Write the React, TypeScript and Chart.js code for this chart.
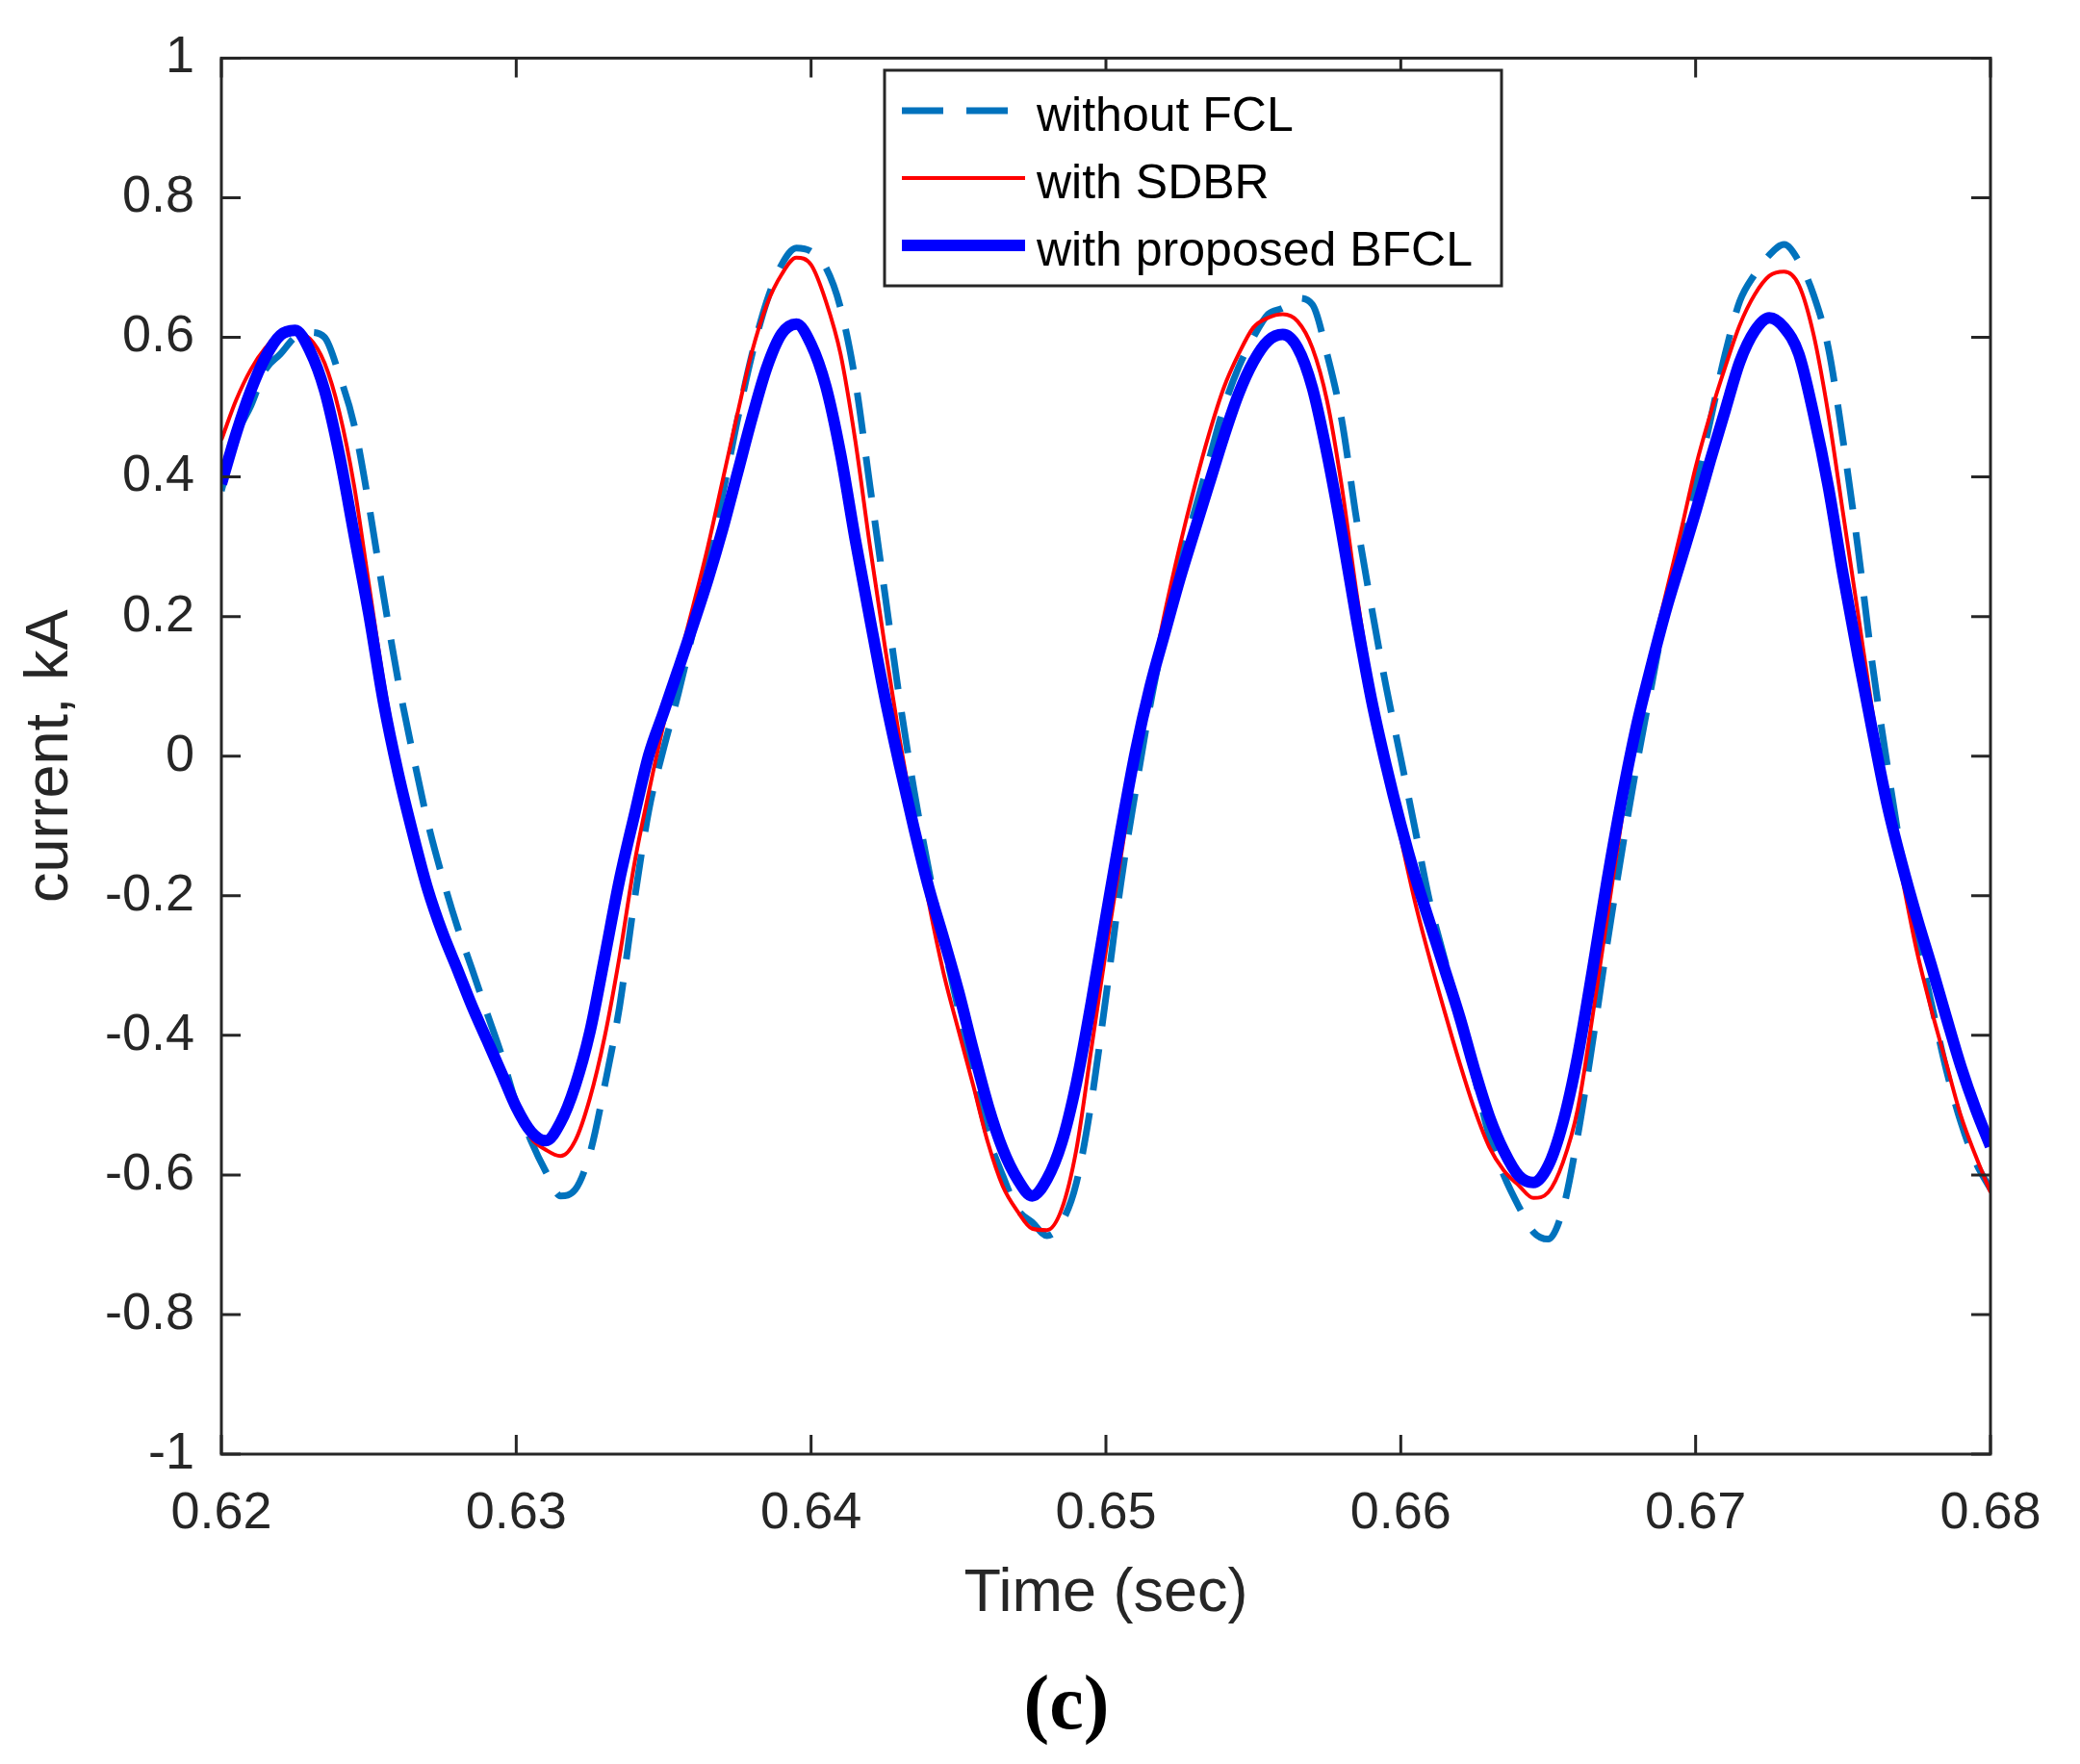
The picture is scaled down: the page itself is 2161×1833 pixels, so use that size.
import React, { useEffect, useRef } from "react";
import { Chart, registerables } from "chart.js";

Chart.register(...registerables);

// ---------- data ----------
const times = [
  0.62, 0.6205, 0.621, 0.6215, 0.622, 0.6225, 0.623, 0.6235, 0.624, 0.6245,
  0.625, 0.6255, 0.626, 0.6265, 0.627, 0.6275, 0.628, 0.6285, 0.629, 0.6295,
  0.63, 0.6305, 0.631, 0.6315, 0.632, 0.6325, 0.633, 0.6335, 0.634, 0.6345,
  0.635, 0.6355, 0.636, 0.6365, 0.637, 0.6375, 0.638, 0.6385, 0.639, 0.6395,
  0.64, 0.6405, 0.641, 0.6415, 0.642, 0.6425, 0.643, 0.6435, 0.644, 0.6445,
  0.645, 0.6455, 0.646, 0.6465, 0.647, 0.6475, 0.648, 0.6485, 0.649, 0.6495,
  0.65, 0.6505, 0.651, 0.6515, 0.652, 0.6525, 0.653, 0.6535, 0.654, 0.6545,
  0.655, 0.6555, 0.656, 0.6565, 0.657, 0.6575, 0.658, 0.6585, 0.659, 0.6595,
  0.66, 0.6605, 0.661, 0.6615, 0.662, 0.6625, 0.663, 0.6635, 0.664, 0.6645,
  0.665, 0.6655, 0.666, 0.6665, 0.667, 0.6675, 0.668, 0.6685, 0.669, 0.6695,
  0.67, 0.6705, 0.671, 0.6715, 0.672, 0.6725, 0.673, 0.6735, 0.674, 0.6745,
  0.675, 0.6755, 0.676, 0.6765, 0.677, 0.6775, 0.678, 0.6785, 0.679, 0.6795,
  0.68,
];

const withoutFCL = [
  0.38, 0.458, 0.502, 0.554, 0.576, 0.6, 0.607, 0.6, 0.546, 0.475,
  0.361, 0.23, 0.107, 0.002, -0.095, -0.174, -0.244, -0.305, -0.367, -0.428,
  -0.498, -0.551, -0.595, -0.63, -0.621, -0.569, -0.472, -0.36, -0.209, -0.077,
  0.011, 0.09, 0.18, 0.28, 0.375, 0.481, 0.576, 0.652, 0.704, 0.728,
  0.723, 0.7, 0.642, 0.538, 0.386, 0.234, 0.082, -0.051, -0.165, -0.269,
  -0.364, -0.459, -0.544, -0.601, -0.649, -0.668, -0.687, -0.668, -0.611, -0.497,
  -0.345, -0.184, -0.051, 0.073, 0.177, 0.275, 0.35, 0.425, 0.5, 0.557,
  0.6, 0.633, 0.642, 0.656, 0.647, 0.576, 0.481, 0.339, 0.215, 0.1,
  -0.003, -0.108, -0.212, -0.293, -0.374, -0.459, -0.544, -0.601, -0.645, -0.682,
  -0.692, -0.649, -0.544, -0.411, -0.269, -0.136, -0.013, 0.1, 0.21, 0.3,
  0.386, 0.481, 0.576, 0.652, 0.69, 0.718, 0.733, 0.709, 0.661, 0.585,
  0.452, 0.3, 0.13, -0.013, -0.146, -0.26, -0.355, -0.449, -0.525, -0.582,
  -0.62,
];

const withSDBR = [
  0.453, 0.51, 0.554, 0.585, 0.605, 0.605, 0.598, 0.563, 0.493, 0.388,
  0.247, 0.107, -0.007, -0.095, -0.182, -0.253, -0.305, -0.358, -0.402, -0.454,
  -0.503, -0.547, -0.564, -0.573, -0.551, -0.49, -0.402, -0.288, -0.156, -0.051,
  0.046, 0.133, 0.215, 0.3, 0.395, 0.49, 0.58, 0.647, 0.69, 0.714,
  0.704, 0.652, 0.576, 0.452, 0.3, 0.158, 0.025, -0.095, -0.212, -0.312,
  -0.393, -0.472, -0.554, -0.616, -0.652, -0.677, -0.679, -0.649, -0.563, -0.421,
  -0.279, -0.146, -0.013, 0.1, 0.206, 0.3, 0.385, 0.462, 0.528, 0.576,
  0.614, 0.628, 0.633, 0.623, 0.585, 0.509, 0.386, 0.234, 0.1, -0.013,
  -0.117, -0.212, -0.293, -0.368, -0.44, -0.506, -0.56, -0.594, -0.615, -0.633,
  -0.625, -0.582, -0.506, -0.374, -0.231, -0.089, 0.044, 0.145, 0.234, 0.322,
  0.414, 0.49, 0.557, 0.618, 0.661, 0.688, 0.694, 0.675, 0.604, 0.49,
  0.348, 0.206, 0.063, -0.07, -0.174, -0.279, -0.364, -0.44, -0.516, -0.573,
  -0.625,
];

const withBFCL = [
  0.39, 0.462, 0.524, 0.572, 0.603, 0.61, 0.581, 0.524, 0.432, 0.318,
  0.204, 0.077, -0.025, -0.112, -0.191, -0.253, -0.305, -0.358, -0.406, -0.454,
  -0.503, -0.538, -0.551, -0.525, -0.472, -0.395, -0.288, -0.178, -0.086, 0.002,
  0.063, 0.125, 0.188, 0.253, 0.325, 0.405, 0.485, 0.557, 0.605, 0.619,
  0.59, 0.53, 0.433, 0.31, 0.196, 0.085, -0.013, -0.105, -0.19, -0.262,
  -0.337, -0.421, -0.5, -0.563, -0.606, -0.63, -0.606, -0.554, -0.468, -0.354,
  -0.23, -0.108, 0.006, 0.1, 0.177, 0.253, 0.322, 0.39, 0.458, 0.519,
  0.565, 0.595, 0.604, 0.585, 0.528, 0.433, 0.32, 0.196, 0.082, -0.013,
  -0.098, -0.174, -0.241, -0.307, -0.374, -0.449, -0.516, -0.566, -0.601, -0.611,
  -0.587, -0.525, -0.43, -0.307, -0.178, -0.06, 0.044, 0.13, 0.21, 0.28,
  0.35, 0.424, 0.495, 0.565, 0.609, 0.628, 0.614, 0.576, 0.49, 0.386,
  0.26, 0.145, 0.035, -0.07, -0.155, -0.231, -0.301, -0.374, -0.445, -0.506,
  -0.559,
];

const seriesLabels = ["without FCL", "with SDBR", "with proposed BFCL"];
const xTickValues = [0.62, 0.63, 0.64, 0.65, 0.66, 0.67, 0.68];
const xTickLabels = ["0.62", "0.63", "0.64", "0.65", "0.66", "0.67", "0.68"];
const yTickValues = [1, 0.8, 0.6, 0.4, 0.2, 0, -0.2, -0.4, -0.6, -0.8, -1];
const yTickLabels = ["1", "0.8", "0.6", "0.4", "0.2", "0", "-0.2", "-0.4", "-0.6", "-0.8", "-1"];
const xTitle = "Time (sec)";
const yTitle = "current, kA";
const caption = "(c)";

// ---------- styling ----------
const SANS = "'Liberation Sans', Arial, Helvetica, sans-serif";
const SERIF = "'Liberation Serif', 'Times New Roman', serif";
const AXIS_COLOR = "#262626";
const W = 2161;
const H = 1833;

const framePlugin = {
  id: "matlabFrame",
  afterDatasetsDraw(chart: any) {
    const { ctx, chartArea: a, scales } = chart;
    const xs = scales.x;
    const ys = scales.y;
    ctx.save();
    // inward ticks on all four sides
    ctx.strokeStyle = AXIS_COLOR;
    ctx.lineWidth = 3;
    ctx.lineCap = "butt";
    const L = 20;
    ctx.beginPath();
    xTickValues.forEach((v) => {
      const px = xs.getPixelForValue(v);
      ctx.moveTo(px, a.bottom);
      ctx.lineTo(px, a.bottom - L);
      ctx.moveTo(px, a.top);
      ctx.lineTo(px, a.top + L);
    });
    yTickValues.forEach((v) => {
      const py = ys.getPixelForValue(v);
      ctx.moveTo(a.left, py);
      ctx.lineTo(a.left + L, py);
      ctx.moveTo(a.right, py);
      ctx.lineTo(a.right - L, py);
    });
    ctx.stroke();
    ctx.strokeRect(a.left, a.top, a.right - a.left, a.bottom - a.top);

    // legend box
    const lx = 919, ly = 73, lw = 641, lh = 224;
    ctx.fillStyle = "#ffffff";
    ctx.fillRect(lx, ly, lw, lh);
    ctx.lineWidth = 3;
    ctx.strokeStyle = AXIS_COLOR;
    ctx.strokeRect(lx, ly, lw, lh);
    const rowY = [115, 185, 255];
    chart.data.datasets.forEach((ds: any, i: number) => {
      const y = rowY[i];
      ctx.save();
      ctx.beginPath();
      ctx.strokeStyle = ds.borderColor;
      ctx.lineWidth = ds.borderWidth;
      ctx.setLineDash(ds.borderDash || []);
      ctx.lineCap = "butt";
      ctx.moveTo(937, y);
      ctx.lineTo(1065, y);
      ctx.stroke();
      ctx.restore();
      ctx.fillStyle = "#000000";
      ctx.font = `50px ${SANS}`;
      ctx.textAlign = "left";
      ctx.textBaseline = "alphabetic";
      ctx.fillText(ds.label, 1077, y + 21);
    });

    // caption
    ctx.fillStyle = "#000000";
    ctx.font = `bold 80px ${SERIF}`;
    ctx.textAlign = "center";
    ctx.textBaseline = "alphabetic";
    ctx.fillText(caption, 1108, 1796);
    ctx.restore();
  },
};

export default function App() {
  const canvasRef = useRef<HTMLCanvasElement | null>(null);

  useEffect(() => {
    if (!canvasRef.current) return;
    const mk = (arr: number[]) => times.map((t, i) => ({ x: t, y: arr[i] }));
    const chart = new Chart(canvasRef.current, {
      type: "line",
      data: {
        datasets: [
          {
            label: seriesLabels[0],
            data: mk(withoutFCL),
            borderColor: "#0072BD",
            borderWidth: 7,
            borderDash: [43, 24],
            order: 3,
            clip: 0,
          },
          {
            label: seriesLabels[1],
            data: mk(withSDBR),
            borderColor: "#FF0000",
            borderWidth: 4,
            order: 2,
            clip: 0,
          },
          {
            label: seriesLabels[2],
            data: mk(withBFCL),
            borderColor: "#0000FF",
            borderWidth: 12,
            order: 1,
            clip: 0,
          },
        ] as any,
      },
      options: {
        animation: false,
        responsive: false,
        devicePixelRatio: 1,
        layout: { padding: { left: 0, top: 60, right: 93, bottom: 139 } },
        elements: {
          point: { radius: 0, hoverRadius: 0 },
          line: { cubicInterpolationMode: "monotone", fill: false, borderJoinStyle: "round" },
        },
        plugins: {
          legend: { display: false },
          tooltip: { enabled: false },
          title: { display: false },
        },
        events: [],
        scales: {
          x: {
            type: "linear",
            min: 0.62,
            max: 0.68,
            grid: { display: false, drawTicks: false },
            border: { display: false },
            afterBuildTicks: (s: any) => {
              s.ticks = xTickValues.map((value) => ({ value }));
            },
            afterFit: (s: any) => {
              s.height = 183;
            },
            ticks: {
              autoSkip: false,
              maxRotation: 0,
              minRotation: 0,
              padding: 30,
              color: AXIS_COLOR,
              font: { family: SANS, size: 54 },
              callback: (_v: any, i: number) => xTickLabels[i],
            },
            title: {
              display: true,
              text: xTitle,
              color: AXIS_COLOR,
              font: { family: SANS, size: 63 },
              padding: { top: 0, bottom: 0 },
            },
          },
          y: {
            type: "linear",
            min: -1,
            max: 1,
            grid: { display: false, drawTicks: false },
            border: { display: false },
            afterBuildTicks: (s: any) => {
              s.ticks = yTickValues.map((value) => ({ value }));
            },
            afterFit: (s: any) => {
              s.width = 230;
            },
            ticks: {
              autoSkip: false,
              padding: 28,
              color: AXIS_COLOR,
              font: { family: SANS, size: 54 },
              callback: (_v: any, i: number) => yTickLabels[i],
            },
            title: {
              display: true,
              text: yTitle,
              color: AXIS_COLOR,
              font: { family: SANS, size: 63 },
              padding: { top: 15, bottom: 0 },
            },
          },
        },
      } as any,
      plugins: [framePlugin],
    });
    return () => chart.destroy();
  }, []);

  return (
    <div
      style={{
        position: "fixed",
        left: 0,
        top: 0,
        width: W,
        height: H,
        background: "#ffffff",
      }}
    >
      <canvas ref={canvasRef} width={W} height={H} style={{ display: "block" }} />
    </div>
  );
}
